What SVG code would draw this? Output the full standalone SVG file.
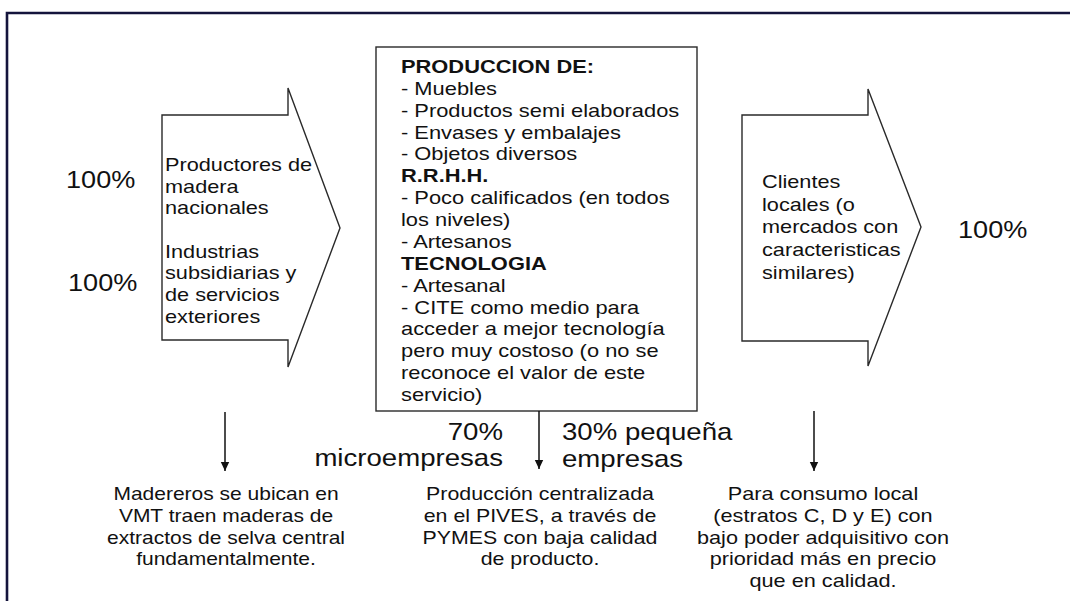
<svg xmlns="http://www.w3.org/2000/svg" width="1070" height="601" viewBox="0 0 1070 601">
<style>
.t{font-family:"Liberation Sans",Arial,sans-serif;font-size:17.5px;fill:#111}
.b{font-weight:bold}
.big{font-family:"Liberation Sans",Arial,sans-serif;font-size:24px;fill:#111}
.shape{fill:#fff;stroke:#2a2a2a;stroke-width:1.4}
.conn{stroke:#111;stroke-width:1.5;fill:none}
.frame{stroke:#14143c;stroke-width:2.6;fill:none}
</style>
<defs>
<marker id="ah" markerUnits="userSpaceOnUse" markerWidth="10" markerHeight="10" viewBox="0 0 10 10" refX="9" refY="5" orient="auto">
<path d="M0,0.8 L9,5 L0,9.2 Z" fill="#111"/>
</marker>
</defs>
<rect width="1070" height="601" fill="#fff"/>
<path class="frame" d="M7,601 V13 H1070"/>

<g id="pct-left">
<g transform="translate(66,188) scale(1.13,1)"><text class="big" x="0" y="0">100%</text></g>
<g transform="translate(68,290.5) scale(1.13,1)"><text class="big" x="0" y="0">100%</text></g>
</g>

<g id="node-inputs">
<path class="shape" d="M162,115 H288 V88 L340,228 L288,367 V340 H162 Z"/>
<g transform="translate(165,0) scale(1.24,1)">
<text class="t" x="0" y="171">Productores de</text>
<text class="t" x="0" y="192.7">madera</text>
<text class="t" x="0" y="214.4">nacionales</text>
<text class="t" x="0" y="257.8">Industrias</text>
<text class="t" x="0" y="279.5">subsidiarias y</text>
<text class="t" x="0" y="301.2">de servicios</text>
<text class="t" x="0" y="322.9">exteriores</text>
</g>
</g>

<g id="node-production">
<rect class="shape" x="376" y="47" width="321" height="364"/>
<g transform="translate(401,0) scale(1.25,1)">
<text class="t b" x="0" y="73">PRODUCCION DE:</text>
<text class="t" x="0" y="94.9">- Muebles</text>
<text class="t" x="0" y="116.7">- Productos semi elaborados</text>
<text class="t" x="0" y="138.6">- Envases y embalajes</text>
<text class="t" x="0" y="160.5">- Objetos diversos</text>
<text class="t b" x="0" y="182.4">R.R.H.H.</text>
<text class="t" x="0" y="204.2">- Poco calificados (en todos</text>
<text class="t" x="0" y="226.1">los niveles)</text>
<text class="t" x="0" y="248">- Artesanos</text>
<text class="t b" x="0" y="269.8">TECNOLOGIA</text>
<text class="t" x="0" y="291.7">- Artesanal</text>
<text class="t" x="0" y="313.6">- CITE como medio para</text>
<text class="t" x="0" y="335.4">acceder a mejor tecnología</text>
<text class="t" x="0" y="357.3">pero muy costoso (o no se</text>
<text class="t" x="0" y="379.2">reconoce el valor de este</text>
<text class="t" x="0" y="401">servicio)</text>
</g>
</g>

<g id="node-clients">
<path class="shape" d="M742,115 H868 V89 L921,227 L868,366 V341 H742 Z"/>
<g transform="translate(762,0) scale(1.24,1)">
<text class="t" x="0" y="188">Clientes</text>
<text class="t" x="0" y="210.7">locales (o</text>
<text class="t" x="0" y="233.4">mercados con</text>
<text class="t" x="0" y="256.1">caracteristicas</text>
<text class="t" x="0" y="278.8">similares)</text>
</g>
</g>

<g id="pct-right">
<g transform="translate(958,238) scale(1.13,1)"><text class="big" x="0" y="0">100%</text></g>
</g>

<g id="connectors">
<line class="conn" x1="225" y1="412" x2="225" y2="471" marker-end="url(#ah)"/>
<line class="conn" x1="539" y1="411" x2="539" y2="469" marker-end="url(#ah)"/>
<line class="conn" x1="814" y1="411" x2="814" y2="471" marker-end="url(#ah)"/>
</g>

<g id="labels-center">
<g transform="translate(503,0) scale(1.15,1)">
<text class="big" x="0" y="440" text-anchor="end">70%</text>
<text class="big" x="0" y="466" text-anchor="end">microempresas</text>
</g>
<g transform="translate(562,0) scale(1.15,1)">
<text class="big" x="0" y="440">30% pequeña</text>
<text class="big" x="0" y="467">empresas</text>
</g>
</g>

<g id="node-madereros">
<g transform="translate(226,0) scale(1.2,1)">
<text class="t" x="0" y="500.5" text-anchor="middle">Madereros se ubican en</text>
<text class="t" x="0" y="522.1" text-anchor="middle">VMT traen maderas de</text>
<text class="t" x="0" y="543.7" text-anchor="middle">extractos de selva central</text>
<text class="t" x="0" y="565.3" text-anchor="middle">fundamentalmente.</text>
</g>
</g>

<g id="node-pives">
<g transform="translate(540,0) scale(1.22,1)">
<text class="t" x="0" y="500.5" text-anchor="middle">Producción centralizada</text>
<text class="t" x="0" y="522.1" text-anchor="middle">en el PIVES, a través de</text>
<text class="t" x="0" y="543.7" text-anchor="middle">PYMES con baja calidad</text>
<text class="t" x="0" y="565.3" text-anchor="middle">de producto.</text>
</g>
</g>

<g id="node-consumo">
<g transform="translate(823,0) scale(1.24,1)">
<text class="t" x="0" y="500.5" text-anchor="middle">Para consumo local</text>
<text class="t" x="0" y="522.1" text-anchor="middle">(estratos C, D y E) con</text>
<text class="t" x="0" y="543.7" text-anchor="middle">bajo poder adquisitivo con</text>
<text class="t" x="0" y="565.3" text-anchor="middle">prioridad más en precio</text>
<text class="t" x="0" y="586.9" text-anchor="middle">que en calidad.</text>
</g>
</g>
</svg>
